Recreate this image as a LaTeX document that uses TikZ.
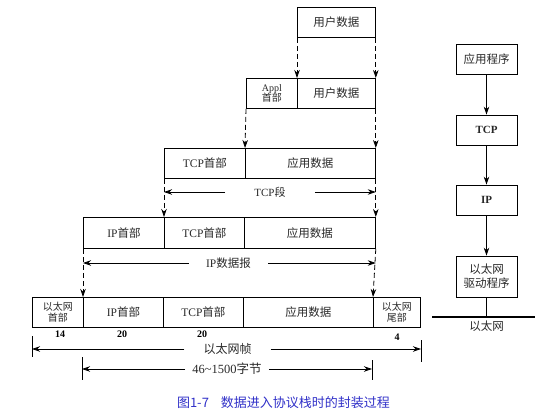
\documentclass[tikz,border=0pt]{standalone}
\usepackage{fontspec}
\setmainfont{Liberation Serif}
\newfontfamily\cjk{Noto Sans CJK SC}
\usetikzlibrary{arrows.meta}
\newcommand\zh[1]{{\cjk #1}}
\definecolor{capblue}{RGB}{48,48,200}
\definecolor{ink}{RGB}{40,40,40}
\begin{document}
\begin{tikzpicture}[x=1pt,y=-1pt,
  box/.style={draw, line width=0.8pt, minimum height=30pt, inner sep=0pt, anchor=north west,
    text=ink, font=\fontsize{11.5}{12}\selectfont},
  smallbox/.style={box, align=center, font=\fontsize{10}{11.5}\selectfont},
  rbox/.style={draw, line width=0.8pt, minimum width=61pt, minimum height=30pt, inner sep=0pt,
    text=ink, font=\fontsize{11.5}{14}\selectfont, align=center},
  dasharr/.style={line width=0.8pt, dash pattern=on 5pt off 3pt, -{Stealth[length=8pt,width=5.5pt]}},
  arr/.style={line width=0.8pt, -{Stealth[length=8pt,width=5.5pt]}},
  lab/.style={inner sep=0pt, text=ink, font=\fontsize{11.5}{12}\selectfont},
  num/.style={inner sep=0pt, font=\bfseries\fontsize{10}{10}\selectfont},
  tick/.style={line width=0.8pt}
]
\useasboundingbox (0,0) rectangle (556,419);

% row 1
\node[box, minimum width=78pt] (u1) at (297,7) {\zh{用户数据}};
% row 2
\node[smallbox, minimum width=51pt] (a2) at (246,78) {Appl\\[-1pt]\zh{首部}};
\node[box, minimum width=78pt] (d2) at (297,78) {\zh{用户数据}};
% row 3
\node[box, minimum width=81pt] (h3) at (164,148) {TCP\zh{首部}};
\node[box, minimum width=130pt] (d3) at (245,148) {\zh{应用数据}};
% row 4
\node[box, minimum width=81pt, minimum height=31pt] (i4) at (83,217) {IP\zh{首部}};
\node[box, minimum width=80pt, minimum height=31pt] (t4) at (164,217) {TCP\zh{首部}};
\node[box, minimum width=131pt, minimum height=31pt] (d4) at (244,217) {\zh{应用数据}};
% row 5
\node[smallbox, minimum width=51pt] (e5) at (32,297) {\zh{以太网}\\\zh{首部}};
\node[box, minimum width=80pt] (i5) at (83,297) {IP\zh{首部}};
\node[box, minimum width=80pt] (t5) at (163,297) {TCP\zh{首部}};
\node[box, minimum width=130pt] (d5) at (243,297) {\zh{应用数据}};
\node[smallbox, minimum width=47pt] (r5) at (373,297) {\zh{以太网}\\\zh{尾部}};

% dashed arrows
\draw[dasharr] (u1.south west) -- (d2.north west);
\draw[dasharr] (u1.south east) -- (d2.north east);
\draw[dasharr] (a2.south west) -- (d3.north west);
\draw[dasharr] (d2.south east) -- (d3.north east);
\draw[dasharr] (h3.south west) -- (t4.north west);
\draw[dasharr] (d3.south east) -- (d4.north east);
\draw[dasharr] (i4.south west) -- (i5.north west);
\draw[dasharr] (d4.south east) -- (r5.north west);

% TCP segment
\node[lab, inner xsep=29pt, font=\fontsize{11}{12}\selectfont] (seg) at (270,192) {TCP\zh{段}};
\draw[arr] (seg.west) -- (seg.west -| h3.west);
\draw[arr] (seg.east) -- (seg.east -| d3.east);
% IP datagram
\node[lab, inner xsep=17pt] (dgm) at (228.5,263) {IP\zh{数据报}};
\draw[arr] (dgm.west) -- (dgm.west -| i4.west);
\draw[arr] (dgm.east) -- (dgm.east -| d4.east);

% byte counts
\node[num] (n14) at (60,334) {14};
\node[num] (n20a) at (122,334) {20};
\node[num] (n20b) at (202,334) {20};
\node[num] (n4) at (397,337) {4};

% Ethernet frame
\coordinate (fl1) at (32,336); \coordinate (fl2) at (32,357);
\coordinate (fr1) at (421,340); \coordinate (fr2) at (421,362);
\draw[tick] (fl1) -- (fl2);
\draw[tick] (fr1) -- (fr2);
\node[lab, inner xsep=19pt, font=\fontsize{12}{12}\selectfont] (frm) at (227.5,349) {\zh{以太网帧}};
\draw[arr] (frm.west) -- (frm.west -| fl1);
\draw[arr] (frm.east) -- (frm.east -| fr1);

% 46~1500
\coordinate (bl1) at (82,357); \coordinate (bl2) at (82,380);
\coordinate (br1) at (372,360); \coordinate (br2) at (372,380);
\draw[tick] (bl1) -- (bl2);
\draw[tick] (br1) -- (br2);
\node[lab, inner xsep=7pt, font=\fontsize{12.5}{12}\selectfont] (rng) at (227,369) {46\char`~1500\zh{字节}};
\draw[arr] (rng.west) -- (rng.west -| bl1);
\draw[arr] (rng.east) -- (rng.east -| br1);

% right column
\node[rbox] (app) at (486.5,59) {\zh{应用程序}};
\node[rbox, font=\bfseries\fontsize{11}{12}\selectfont] (tcp) at (486.5,130) {TCP};
\node[rbox, font=\bfseries\fontsize{11}{12}\selectfont] (ip) at (486.5,200) {IP};
\node[rbox, minimum height=41pt] (drv) at (486.5,276.5) {\zh{以太网}\\\zh{驱动程序}};
\draw[arr] (app) -- (tcp);
\draw[arr] (tcp) -- (ip);
\draw[arr] (ip) -- (drv);
\coordinate (eth) at (486.5,317);
\coordinate (ethL) at (432,317);
\coordinate (ethR) at (535,317);
\draw[line width=0.8pt] (drv.south) -- (eth);
\draw[line width=2pt] (ethL) -- (ethR);
\node[lab, font=\fontsize{11.5}{12}\selectfont] (ethlab) at (486.5,326) {\zh{以太网}};

% caption
\node[inner sep=0pt, text=capblue, font=\cjk\fontsize{13}{14}\selectfont] (cap) at (283.5,403) {图1-7\hspace{12pt}数据进入协议栈时的封装过程};
\end{tikzpicture}
\end{document}
